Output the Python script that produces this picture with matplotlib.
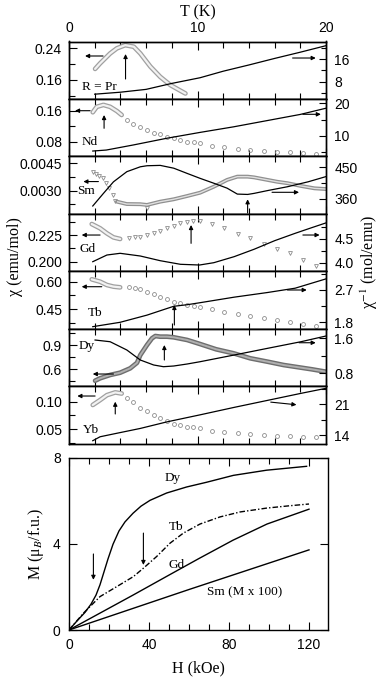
import matplotlib.pyplot as plt
from matplotlib.ticker import MultipleLocator, FixedLocator, FixedFormatter

plt.rcParams['font.family'] = ['Liberation Sans', 'DejaVu Sans']
plt.rcParams['mathtext.fontset'] = 'stix'
SERIF = ['Liberation Serif', 'DejaVu Serif']

# ---------------- chi(T) and 1/chi(T) data ----------------
# R = Pr
pr_T_dense = [2.03, 2.42, 3.2, 3.73, 4.38, 5.04, 5.55, 6.33, 7.1, 7.9, 8.67, 9.06]
pr_chi_dense = [0.188, 0.202, 0.227, 0.240, 0.248, 0.244, 0.227, 0.194, 0.168, 0.147, 0.133, 0.126]
pr_T_inv = [2.0, 4.0, 6.0, 8.0, 10.2, 12.0, 14.0, 16.0, 18.0, 20.0]
pr_inv = [3.6, 4.3, 5.3, 7.4, 9.4, 11.7, 13.9, 16.2, 18.4, 20.7]

# R = Nd
nd_T_dense = [1.85, 2.16, 2.68, 3.2, 3.73, 4.1]
nd_chi_dense = [0.156, 0.170, 0.175, 0.170, 0.159, 0.149]
nd_T_pts = [4.5, 5.0, 5.55, 6.07, 6.59, 7.1, 7.63, 8.15, 8.67, 9.2, 9.7, 10.16,
            11.15, 12.1, 13.15, 14.1, 15.2, 16.2, 17.2, 18.2, 19.2]
nd_chi_pts = [0.136, 0.125, 0.117, 0.110, 0.103, 0.099, 0.093, 0.089, 0.084, 0.080, 0.078, 0.076,
              0.069, 0.066, 0.062, 0.059, 0.057, 0.054, 0.053, 0.051, 0.049]
nd_T_inv = [1.85, 2.9, 5.0, 7.6, 10.2, 12.8, 15.4, 18.0, 20.0]
nd_inv = [5.4, 5.7, 7.25, 9.3, 11.1, 12.8, 14.7, 16.6, 18.5]

# R = Sm
sm_T_tri = [1.85, 2.1, 2.37, 2.63, 2.89, 3.15, 3.41, 3.6, 6.1]
sm_chi_tri = [0.00402, 0.00391, 0.00380, 0.00368, 0.00340, 0.00313, 0.00276, 0.00245, 0.00204]
sm_T_dense = [3.73, 4.5, 5.55, 6.07, 7.1, 8.15, 9.2, 10.2, 11.27, 12.3, 13.1, 13.9, 14.4,
              15.45, 16.2, 17.0, 18.05, 19.1, 20.0]
sm_chi_dense = [0.00240, 0.00227, 0.00226, 0.00222, 0.00240, 0.00253, 0.00271, 0.00289, 0.00322,
                0.00359, 0.00377, 0.00377, 0.00373, 0.00359, 0.00349, 0.00341, 0.00326, 0.00313, 0.00309]
sm_T_inv = [1.85, 2.68, 3.46, 4.5, 5.55, 6.07, 7.1, 8.15, 9.2, 10.2, 11.27, 12.3, 13.1, 13.9,
            14.4, 15.45, 17.0, 18.6, 20.0]
sm_inv = [340, 376, 409, 438, 452, 455, 456, 448, 433, 419, 405, 391, 374, 373,
          376, 384, 395, 409, 424]

# R = Gd
gd_T_dense = [1.77, 2.42, 2.95, 3.46, 3.98]
gd_chi_dense = [0.2353, 0.2313, 0.2266, 0.2228, 0.2213]
gd_T_tri = [4.64, 5.16, 5.55, 6.07, 6.59, 7.1, 7.63, 8.15, 8.67, 9.15, 9.67, 10.16,
            11.15, 12.1, 13.15, 14.1, 15.2, 16.2, 17.2, 18.2, 19.2]
gd_chi_tri = [0.2219, 0.2228, 0.2234, 0.2250, 0.2266, 0.2287, 0.2313, 0.2334, 0.2360, 0.2375, 0.2381, 0.2381,
              0.2353, 0.2313, 0.2259, 0.2219, 0.2166, 0.2116, 0.2079, 0.2016, 0.1959]
gd_T_inv = [1.85, 2.95, 3.98, 5.55, 7.1, 8.67, 10.16, 11.27, 12.85, 14.4, 16.0, 17.6, 18.9, 20.0]
gd_inv = [4.021, 4.162, 4.198, 4.141, 4.042, 3.966, 3.951, 4.0, 4.127, 4.283, 4.464, 4.62, 4.74, 4.84]

# R = Tb
tb_T_dense = [1.77, 2.42, 2.95, 3.46, 3.98]
tb_chi_dense = [0.613, 0.600, 0.582, 0.573, 0.569]
tb_T_pts = [4.64, 5.16, 5.55, 6.07, 6.59, 7.1, 7.63, 8.15, 8.67, 9.2, 9.7, 10.16,
            11.15, 12.1, 13.15, 14.1, 15.2, 16.2, 17.2, 18.2, 19.2]
tb_chi_pts = [0.5725, 0.567, 0.560, 0.545, 0.532, 0.518, 0.503, 0.490, 0.481, 0.472, 0.467, 0.463,
              0.450, 0.436, 0.424, 0.413, 0.399, 0.390, 0.377, 0.366, 0.357]
tb_T_inv = [1.85, 3.98, 6.07, 7.63, 8.15, 9.2, 10.2, 12.85, 15.45, 17.6, 20.0]
tb_inv = [1.678, 1.80, 2.00, 2.185, 2.246, 2.29, 2.346, 2.50, 2.63, 2.75, 3.01]

# R = Dy
dy_T_dense = [2.03, 2.42, 3.2, 3.98, 4.76, 5.29, 5.55, 6.07, 6.46, 6.72, 7.1, 7.63, 8.15, 9.2,
              10.2, 11.45, 12.8, 14.1, 15.45, 16.7, 18.9, 20.0]
dy_chi_dense = [0.459, 0.489, 0.530, 0.558, 0.612, 0.680, 0.776, 0.900, 0.983, 1.011, 1.003, 1.003,
                0.995, 0.962, 0.912, 0.847, 0.798, 0.736, 0.694, 0.653, 0.600, 0.570]
dy_T_inv = [2.03, 3.2, 4.5, 5.55, 6.59, 7.35, 8.15, 9.2, 10.2, 12.85, 15.45, 18.05, 20.0]
dy_inv = [1.561, 1.522, 1.333, 1.104, 0.990, 0.951, 0.967, 1.013, 1.065, 1.218, 1.371, 1.522, 1.653]

# R = Yb
yb_T_dense = [1.85, 2.42, 2.95, 3.6, 4.1]
yb_chi_dense = [0.094, 0.103, 0.112, 0.117, 0.115]
yb_T_pts = [4.5, 5.0, 5.55, 6.07, 6.59, 7.1, 7.63, 8.15, 8.67, 9.2, 9.67, 10.16,
            11.15, 12.1, 13.15, 14.1, 15.2, 16.2, 17.2, 18.2, 19.2]
yb_chi_pts = [0.107, 0.099, 0.088, 0.083, 0.076, 0.070, 0.065, 0.060, 0.057, 0.054, 0.053, 0.051,
              0.047, 0.044, 0.042, 0.040, 0.039, 0.038, 0.037, 0.036, 0.035]
yb_T_inv = [1.85, 2.42, 3.73, 5.55, 7.63, 10.2, 12.85, 15.45, 18.05, 20.0]
yb_inv = [12.7, 13.6, 14.4, 15.5, 17.0, 18.6, 20.3, 21.9, 23.5, 24.65]

# ---------------- M(H) data ----------------
mh_dy_H = [0, 4, 8, 11, 13.5, 15.5, 17.5, 19.5, 22, 25, 28, 32, 36, 40.5, 48.8, 58.8, 68.8, 82.2, 98.8, 118.8]
mh_dy_M = [0, 0.42, 0.82, 1.2, 1.62, 2.1, 2.7, 3.3, 3.98, 4.6, 5.02, 5.42, 5.75, 6.02, 6.36, 6.64, 6.86, 7.18, 7.42, 7.60]
mh_tb_H = [0, 7.2, 15.5, 23.8, 32.2, 37.2, 43.8, 50.5, 57.2, 65.5, 75.5, 85.5, 98.8, 110.5, 120]
mh_tb_M = [0, 0.78, 1.55, 2.01, 2.48, 2.87, 3.41, 4.03, 4.50, 4.92, 5.25, 5.48, 5.66, 5.77, 5.85]
mh_gd_H = [0, 32, 50, 65, 82, 99, 120]
mh_gd_M = [0, 1.62, 2.55, 3.32, 4.17, 4.92, 5.61]
mh_sm_H = [0, 60, 120]
mh_sm_M = [0, 1.88, 3.72]

# ---------------- panel settings ----------------
panels = [
    dict(name='R = Pr', dense=(pr_T_dense, pr_chi_dense), pts=None, inv=(pr_T_inv, pr_inv),
         yl=(0.1122, 0.2572), yr=(1.93, 22.17),
         lmaj=[0.16, 0.24], lfmt=['0.16', '0.24'], lmin=[0.12, 0.20],
         rmaj=[8, 16], rfmt=['8', '16'], rmin=[4, 12, 20],
         lab=(1.0, 0.1416), up=(4.4, 0.1625, 0.2256), left=(2.65, 1.25, 0.2206),
         right=(17.4, 19.2, 16.35, 16.35)),
    dict(name='Nd', dense=(nd_T_dense, nd_chi_dense), pts=(nd_T_pts, nd_chi_pts, 'o'), inv=(nd_T_inv, nd_inv),
         yl=(0.0422, 0.1904), yr=(3.77, 21.34),
         lmaj=[0.08, 0.16], lfmt=['0.08', '0.16'], lmin=[0.12],
         rmaj=[10, 20], rfmt=['10', '20'], rmin=[5, 15],
         lab=(1.0, 0.0784), up=(2.73, 0.1146, 0.1489), left=(1.64, 0.47, 0.16),
         right=(18.2, 19.6, 16.64, 16.64)),
    dict(name='Sm', dense=(sm_T_dense, sm_chi_dense), pts=(sm_T_tri, sm_chi_tri, 'v'), inv=(sm_T_inv, sm_inv),
         yl=(0.001736, 0.00488), yr=(317.7, 481.8),
         lmaj=[0.0030, 0.0045], lfmt=['0.0030', '0.0045'], lmin=[0.00225, 0.00375],
         rmaj=[360, 450], rfmt=['360', '450'], rmin=[405],
         lab=(0.65, 0.0030), up=(13.9, 0.00178, 0.00253), left=(2.29, 1.12, 0.0035),
         right=(15.8, 17.9, 379.1, 379.1)),
    dict(name='Gd', dense=(gd_T_dense, gd_chi_dense), pts=(gd_T_tri, gd_chi_tri, 'v'), inv=(gd_T_inv, gd_inv),
         yl=(0.1911, 0.2449), yr=(3.82, 5.032),
         lmaj=[0.200, 0.225], lfmt=['0.200', '0.225'], lmin=[0.2125, 0.2375],
         rmaj=[4.0, 4.5], rfmt=['4.0', '4.5'], rmin=[4.25, 4.75],
         lab=(0.78, 0.2119), up=(9.5, 0.2172, 0.2344), left=(2.42, 0.99, 0.225),
         right=(18.2, 19.5, 4.584, 4.584)),
    dict(name='Tb', dense=(tb_T_dense, tb_chi_dense), pts=(tb_T_pts, tb_chi_pts, 'o'), inv=(tb_T_inv, tb_inv),
         yl=(0.3421, 0.6576), yr=(1.623, 3.223),
         lmaj=[0.45, 0.60], lfmt=['0.45', '0.60'], lmin=[0.375, 0.525],
         rmaj=[1.8, 2.7], rfmt=['1.8', '2.7'], rmin=[2.25, 3.15],
         lab=(1.43, 0.4264), up=(8.2, 0.362, 0.472), left=(2.55, 0.99, 0.5725),
         right=(17.0, 18.5, 2.70, 2.70)),
    dict(name='Dy', dense=(dy_T_dense, dy_chi_dense), pts=None, inv=(dy_T_inv, dy_inv),
         yl=(0.3929, 1.102), yr=(0.508, 1.821),
         lmaj=[0.6, 0.9], lfmt=['0.6', '0.9'], lmin=[0.45, 0.75, 1.05],
         rmaj=[0.8, 1.6], rfmt=['0.8', '1.6'], rmin=[1.2],
         lab=(0.78, 0.8877), up=(7.42, 0.7148, 0.90), left=(3.46, 1.85, 0.5418),
         right=(17.9, 19.2, 1.499, 1.499)),
    dict(name='Yb', dense=(yb_T_dense, yb_chi_dense), pts=(yb_T_pts, yb_chi_pts, 'o'), inv=(yb_T_inv, yb_inv),
         yl=(0.02344, 0.1286), yr=(12.06, 25.16),
         lmaj=[0.05, 0.10], lfmt=['0.05', '0.10'], lmin=[0.025, 0.075],
         rmaj=[14, 21], rfmt=['14', '21'], rmin=[17.5, 24.5],
         lab=(1.07, 0.0482), up=(3.6, 0.0775, 0.10), left=(2.03, 0.65, 0.1104),
         right=(15.7, 17.7, 21.5, 20.9)),
]

W, H = 382, 679
fig = plt.figure(figsize=(W / 100, H / 100), dpi=100)

top0 = 41.5
ph = 57.43
x0 = 69
pw = 257

arrow = dict(arrowstyle='-|>', color='black', lw=0.8, shrinkA=0, shrinkB=0, mutation_scale=6)

for i, p in enumerate(panels):
    top = top0 + i * ph
    ax = fig.add_axes([x0 / W, 1 - (top + ph) / H, pw / W, ph / H])
    axr = ax.twinx()

    # dense data: many overlapping open circles -> drawn as a hollow grey band
    T, c = p['dense']
    if p['name'] == 'Dy':
        ax.plot(T, c, color='#6e6e6e', lw=3.4, solid_capstyle='round')
        ax.plot(T, c, color='#b0b0b0', lw=1.4, solid_capstyle='round')
    elif p['name'] == 'Sm':
        ax.plot(T, c, color='#909090', lw=2.8, solid_capstyle='round')
        ax.plot(T, c, color='#e0e0e0', lw=1.0, solid_capstyle='round')
    else:
        ax.plot(T, c, color='#a0a0a0', lw=3.4, solid_capstyle='round')
        ax.plot(T, c, color='#f2f2f2', lw=1.6, solid_capstyle='round')
    if p['pts'] is not None:
        T2, c2, m = p['pts']
        ax.plot(T2, c2, ls='none', marker=m, ms=2.8, mfc='none', mec='#8c8c8c', mew=0.6)

    Ti, vi = p['inv']
    axr.plot(Ti, vi, color='black', lw=0.9)

    ax.set_xlim(0, 20)
    ax.set_ylim(*p['yl'])
    axr.set_ylim(*p['yr'])

    ax.xaxis.set_major_locator(MultipleLocator(10))
    ax.xaxis.set_minor_locator(MultipleLocator(2))
    ax.yaxis.set_major_locator(FixedLocator(p['lmaj']))
    ax.yaxis.set_major_formatter(FixedFormatter(p['lfmt']))
    ax.yaxis.set_minor_locator(FixedLocator(p['lmin']))
    axr.yaxis.set_major_locator(FixedLocator(p['rmaj']))
    axr.yaxis.set_major_formatter(FixedFormatter(p['rfmt']))
    axr.yaxis.set_minor_locator(FixedLocator(p['rmin']))

    ax.tick_params(which='both', direction='in', top=True, bottom=True, width=0.8,
                   labelbottom=False, labeltop=(i == 0), labelsize=10, pad=5)
    ax.tick_params(which='major', length=6)
    ax.tick_params(which='minor', length=4)
    axr.tick_params(which='both', direction='in', width=0.8, labelsize=10, pad=6)
    axr.tick_params(which='major', length=5)
    axr.tick_params(which='minor', length=3.5)
    for a in (ax, axr):
        for s in a.spines.values():
            s.set_linewidth(1.0)

    if i == 0:
        ax.xaxis.set_label_position('top')
        ax.set_xlabel('T (K)', family=SERIF, fontsize=11.5, labelpad=3)

    ax.text(p['lab'][0], p['lab'][1], p['name'], family=SERIF, fontsize=9.5, va='center', ha='left')

    ux, uy0, uy1 = p['up']
    ax.annotate('', xy=(ux, uy1), xytext=(ux, uy0), arrowprops=arrow)
    lx0, lx1, ly = p['left']
    ax.annotate('', xy=(lx1, ly), xytext=(lx0, ly), arrowprops=arrow)
    rx0, rx1, ry0, ry1 = p['right']
    axr.annotate('', xy=(rx1, ry1), xytext=(rx0, ry0), arrowprops=arrow)

fig.text(15 / W, 1 - 257 / H, 'χ (emu/mol)', family=SERIF, fontsize=11.5,
         rotation=90, ha='center', va='center')
fig.text(369 / W, 1 - 262 / H, 'χ$^{-1}$ (mol/emu)', family=SERIF, fontsize=11.5,
         rotation=90, ha='center', va='center')

# ---------------- M(H) panel ----------------
axm = fig.add_axes([x0 / W, 1 - 630 / H, 259 / W, 172.3 / H])
axm.plot(mh_dy_H, mh_dy_M, color='black', lw=1.0)
axm.plot(mh_tb_H, mh_tb_M, color='black', lw=1.0, dashes=[4, 1.5, 1, 1.5])
axm.plot(mh_gd_H, mh_gd_M, color='black', lw=1.0)
axm.plot(mh_sm_H, mh_sm_M, color='black', lw=1.0)
axm.set_xlim(0, 129.5)
axm.set_ylim(0, 8)
axm.xaxis.set_major_locator(MultipleLocator(40))
axm.xaxis.set_minor_locator(MultipleLocator(10))
axm.yaxis.set_major_locator(MultipleLocator(4))
axm.tick_params(which='both', direction='in', top=True, right=True, width=0.8, labelsize=10, pad=6)
axm.tick_params(which='major', length=6)
axm.tick_params(which='minor', length=4)
for s in axm.spines.values():
    s.set_linewidth(1.0)
axm.set_xlabel('H (kOe)', family=SERIF, fontsize=11.5, labelpad=6)
axm.set_ylabel('M (μ$_B$/f.u.)', family=SERIF, fontsize=11.5, labelpad=5)

axm.text(51.7, 7.06, 'Dy', family=SERIF, fontsize=9.5, ha='center', va='center')
axm.text(53.8, 4.78, 'Tb', family=SERIF, fontsize=9.5, ha='center', va='center')
axm.text(53.8, 3.02, 'Gd', family=SERIF, fontsize=9.5, ha='center', va='center')
axm.text(88, 1.74, 'Sm (M x 100)', family=SERIF, fontsize=9.5, ha='center', va='center')
axm.annotate('', xy=(12.2, 2.33), xytext=(12.2, 3.53), arrowprops=arrow)
axm.annotate('', xy=(37.2, 3.02), xytext=(37.2, 4.50), arrowprops=arrow)

fig.savefig('out.png', dpi=100)
